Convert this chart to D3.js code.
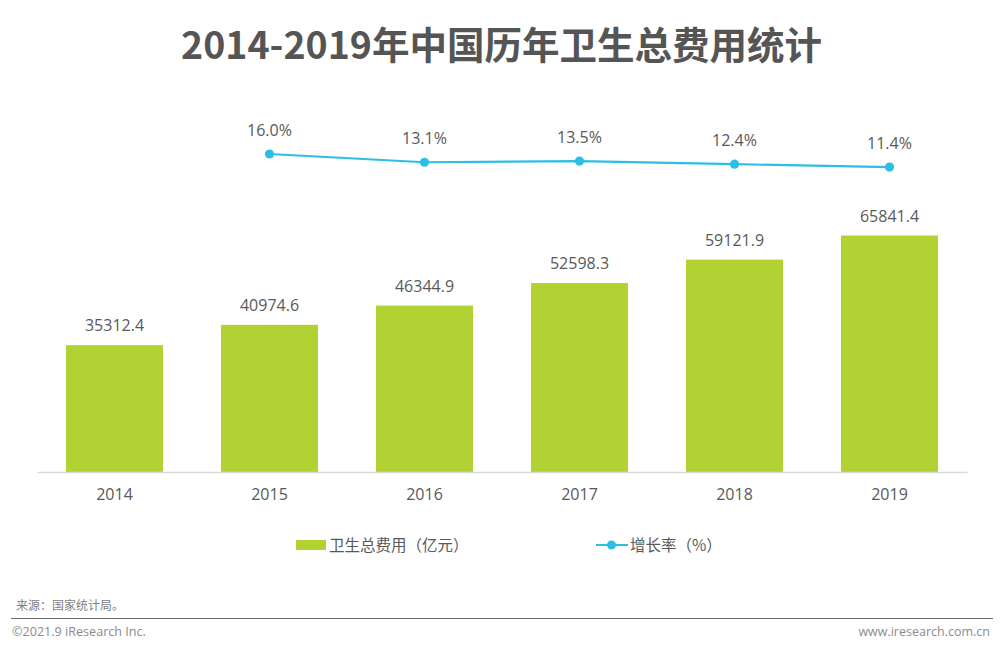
<!DOCTYPE html>
<html>
<head>
<meta charset="utf-8">
<script src="https://cdnjs.cloudflare.com/ajax/libs/d3/7.8.5/d3.min.js"></script>
<style>
  html, body { margin: 0; padding: 0; background: #fff; }
  svg { display: block; }
  text { font-family: "Noto Sans CJK SC", "Noto Sans", sans-serif; }
  .num { font-family: "Open Sans", "Noto Sans CJK SC", sans-serif; }
</style>
</head>
<body>
<svg id="chart" width="1000" height="651"></svg>
<script>
var years = ['2014', '2015', '2016', '2017', '2018', '2019'];
var spending = [35312.4, 40974.6, 46344.9, 52598.3, 59121.9, 65841.4];
var growthYears = ['2015', '2016', '2017', '2018', '2019'];
var growth = [16.0, 13.1, 13.5, 12.4, 11.4];
var spendingLabels = ['35312.4', '40974.6', '46344.9', '52598.3', '59121.9', '65841.4'];
var growthLabels = ['16.0%', '13.1%', '13.5%', '12.4%', '11.4%'];

var green = '#b1d232', blue = '#2dbfe3', textColor = '#595959';

var svg = d3.select('#chart');

var x = d3.scaleBand().domain(years).range([37, 967]).paddingInner(0.374).paddingOuter(0.187);
var y = d3.scaleLinear().domain([0, 65841.4]).range([472, 235.5]);
var yGrowth = d3.scaleLinear().domain([10, 20]).range([171, 142.7]);

svg.append('text')
  .attr('x', 501.5).attr('y', 59)
  .attr('text-anchor', 'middle')
  .attr('font-size', 37.5).attr('font-weight', 700)
  .attr('fill', '#555555')
  .text('2014-2019年中国历年卫生总费用统计');

// bars
svg.selectAll('.bar').data(spending).enter().append('rect')
  .attr('class', 'bar')
  .attr('x', function (d, i) { return x(years[i]); })
  .attr('y', function (d) { return y(d); })
  .attr('width', x.bandwidth())
  .attr('height', function (d) { return y(0) - y(d); })
  .attr('fill', green);

svg.selectAll('.barLabel').data(spending).enter().append('text')
  .attr('class', 'barLabel num')
  .attr('x', function (d, i) { return x(years[i]) + x.bandwidth() / 2; })
  .attr('y', function (d) { return y(d) - 14; })
  .attr('text-anchor', 'middle')
  .attr('font-size', 16).attr('fill', textColor)
  .text(function (d, i) { return spendingLabels[i]; });

// x axis
var axis = svg.append('g')
  .attr('transform', 'translate(0,' + y(0) + ')')
  .call(d3.axisBottom(x).tickSize(0).tickPadding(17));
axis.select('.domain').attr('stroke', '#d9d9d9').attr('stroke-width', 1.5);
axis.selectAll('text')
  .attr('class', 'num')
  .attr('font-size', 16)
  .attr('fill', textColor)
  .style('font-family', '"Open Sans", sans-serif');

// growth line
var line = d3.line()
  .x(function (d, i) { return x(growthYears[i]) + x.bandwidth() / 2; })
  .y(function (d) { return yGrowth(d); });

svg.append('path').datum(growth)
  .attr('d', line)
  .attr('fill', 'none')
  .attr('stroke', blue).attr('stroke-width', 2.2);

svg.selectAll('.dot').data(growth).enter().append('circle')
  .attr('class', 'dot')
  .attr('cx', function (d, i) { return x(growthYears[i]) + x.bandwidth() / 2; })
  .attr('cy', function (d) { return yGrowth(d); })
  .attr('r', 4.6)
  .attr('fill', blue);

svg.selectAll('.dotLabel').data(growth).enter().append('text')
  .attr('class', 'dotLabel num')
  .attr('x', function (d, i) { return x(growthYears[i]) + x.bandwidth() / 2; })
  .attr('y', function (d) { return yGrowth(d) - 18; })
  .attr('text-anchor', 'middle')
  .attr('font-size', 16).attr('fill', textColor)
  .text(function (d, i) { return growthLabels[i]; });

// legend
svg.append('rect')
  .attr('x', 296).attr('y', 540)
  .attr('width', 30).attr('height', 10)
  .attr('fill', green);
svg.append('text')
  .attr('x', 329).attr('y', 551)
  .attr('font-size', 15.5).attr('fill', textColor)
  .text('卫生总费用（亿元）');

svg.append('line')
  .attr('x1', 596).attr('x2', 628)
  .attr('y1', 545).attr('y2', 545)
  .attr('stroke', blue).attr('stroke-width', 2);
svg.append('circle')
  .attr('cx', 611.5).attr('cy', 545).attr('r', 4.5)
  .attr('fill', blue);
svg.append('text')
  .attr('x', 630).attr('y', 551)
  .attr('font-size', 15.5).attr('fill', textColor)
  .text('增长率（%）');

// footer
svg.append('text')
  .attr('x', 16).attr('y', 610)
  .attr('font-size', 12).attr('fill', '#7f7f7f')
  .text('来源：国家统计局。');
svg.append('line')
  .attr('x1', 11).attr('x2', 993)
  .attr('y1', 618.5).attr('y2', 618.5)
  .attr('stroke', '#6e6e6e').attr('stroke-width', 1);
svg.append('text')
  .attr('class', 'num')
  .attr('x', 12).attr('y', 636)
  .attr('font-size', 12.6).attr('fill', '#8c8c8c')
  .text('©2021.9 iResearch Inc.');
svg.append('text')
  .attr('class', 'num')
  .attr('x', 990).attr('y', 636)
  .attr('text-anchor', 'end')
  .attr('font-size', 12.5).attr('fill', '#8c8c8c')
  .text('www.iresearch.com.cn');
</script>
</body>
</html>
